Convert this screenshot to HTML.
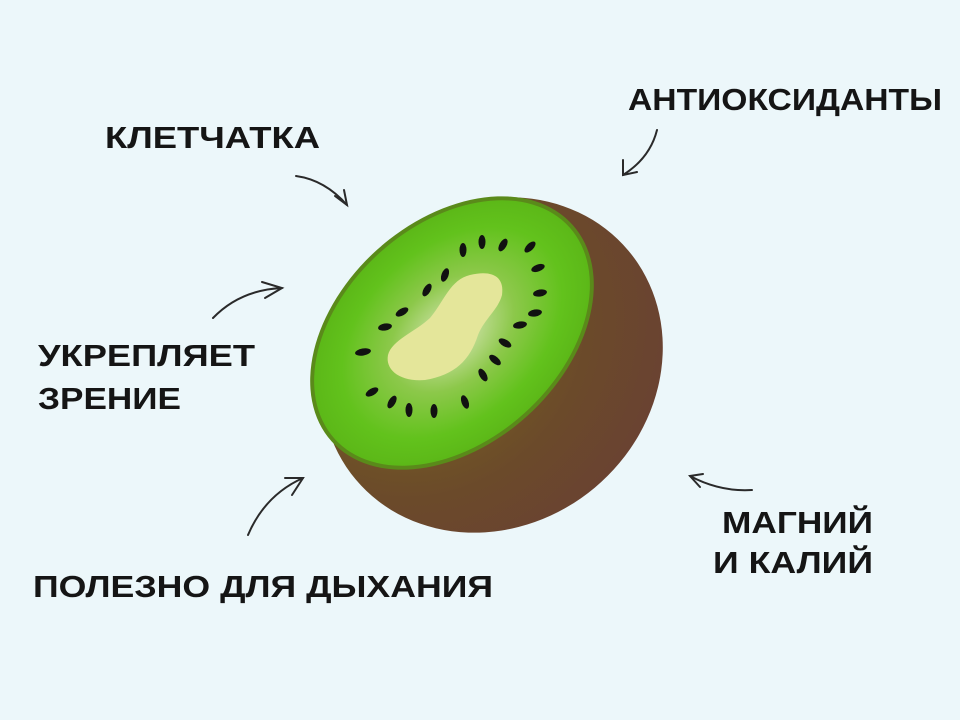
<!DOCTYPE html>
<html><head><meta charset="utf-8"><style>
html,body{margin:0;padding:0;background:#ecf7fa}
svg{display:block}
text{font-family:"Liberation Sans",sans-serif;font-weight:bold;font-size:31px;fill:#151515}
</style></head><body>
<svg width="960" height="720" viewBox="0 0 960 720" xmlns="http://www.w3.org/2000/svg">
<defs>
<radialGradient id="br" cx="0.4" cy="0.3" r="0.8">
<stop offset="0" stop-color="#7a6a1c"/><stop offset="0.6" stop-color="#6b4a2a"/><stop offset="1" stop-color="#6a4034"/>
</radialGradient>
<radialGradient id="gr" cx="0.5" cy="0.5" r="0.5">
<stop offset="0" stop-color="#dfe8c0"/><stop offset="0.45" stop-color="#8cc84a"/><stop offset="0.8" stop-color="#62c21c"/><stop offset="1" stop-color="#5cb818"/>
</radialGradient>
</defs>
<rect width="960" height="720" fill="#ecf7fa"/>
<ellipse cx="492" cy="365" rx="178" ry="160" transform="rotate(-40 492 365)" fill="url(#br)"/>
<ellipse cx="452" cy="333" rx="162" ry="112" transform="rotate(-42 452 333)" fill="#5a8a1a"/>
<ellipse cx="452" cy="333" rx="158" ry="108" transform="rotate(-42 452 333)" fill="url(#gr)"/>
<path d="M470 275 C490 270 505 275 502 295 C498 310 485 318 478 335 C470 360 455 375 425 380 C400 382 385 370 388 355 C392 340 415 332 430 318 C445 300 450 280 470 275Z" fill="#e4e69a"/>
<g fill="#111">
<ellipse cx="482" cy="242" rx="3.5" ry="7"/><ellipse cx="503" cy="245" rx="3.5" ry="7" transform="rotate(30 503 245)"/>
<ellipse cx="530" cy="247" rx="3.5" ry="7" transform="rotate(45 530 247)"/><ellipse cx="463" cy="250" rx="3.5" ry="7"/>
<ellipse cx="538" cy="268" rx="3.5" ry="7" transform="rotate(70 538 268)"/><ellipse cx="540" cy="293" rx="3.5" ry="7" transform="rotate(80 540 293)"/>
<ellipse cx="535" cy="313" rx="3.5" ry="7" transform="rotate(80 535 313)"/><ellipse cx="520" cy="325" rx="3.5" ry="7" transform="rotate(80 520 325)"/>
<ellipse cx="505" cy="343" rx="3.5" ry="7" transform="rotate(-60 505 343)"/><ellipse cx="495" cy="360" rx="3.5" ry="7" transform="rotate(-50 495 360)"/>
<ellipse cx="483" cy="375" rx="3.5" ry="7" transform="rotate(-30 483 375)"/><ellipse cx="465" cy="402" rx="3.5" ry="7" transform="rotate(-20 465 402)"/>
<ellipse cx="434" cy="411" rx="3.5" ry="7"/><ellipse cx="409" cy="410" rx="3.5" ry="7"/>
<ellipse cx="392" cy="402" rx="3.5" ry="7" transform="rotate(30 392 402)"/><ellipse cx="372" cy="392" rx="3.5" ry="7" transform="rotate(60 372 392)"/>
<ellipse cx="363" cy="352" rx="3.5" ry="8" transform="rotate(80 363 352)"/><ellipse cx="385" cy="327" rx="3.5" ry="7" transform="rotate(80 385 327)"/>
<ellipse cx="402" cy="312" rx="3.5" ry="7" transform="rotate(60 402 312)"/><ellipse cx="427" cy="290" rx="3.5" ry="7" transform="rotate(30 427 290)"/>
<ellipse cx="445" cy="275" rx="3.5" ry="7" transform="rotate(20 445 275)"/>
</g>
<g fill="none" stroke="#2a2a2a" stroke-width="2" stroke-linecap="round">
<path d="M296 176 Q325 180 347 205"/><path d="M335 196 L347 205 L344 190"/>
<path d="M213 318 Q240 290 282 288"/><path d="M262 282 L282 288 L265 298"/>
<path d="M248 535 Q265 495 303 478"/><path d="M285 478 L303 478 L292 495"/>
<path d="M657 130 Q650 158 623 175"/><path d="M623 160 L623 175 L637 172"/>
<path d="M752 490 Q720 492 690 476"/><path d="M703 474 L690 476 L700 487"/>
</g>
<text x="105" y="148" textLength="215" lengthAdjust="spacingAndGlyphs">КЛЕТЧАТКА</text>
<text x="628" y="110" textLength="314" lengthAdjust="spacingAndGlyphs">АНТИОКСИДАНТЫ</text>
<text x="38" y="366" textLength="217" lengthAdjust="spacingAndGlyphs">УКРЕПЛЯЕТ</text>
<text x="38" y="409" textLength="143" lengthAdjust="spacingAndGlyphs">ЗРЕНИЕ</text>
<text x="33" y="597" textLength="460" lengthAdjust="spacingAndGlyphs">ПОЛЕЗНО ДЛЯ ДЫХАНИЯ</text>
<text x="722" y="533" textLength="151" lengthAdjust="spacingAndGlyphs">МАГНИЙ</text>
<text x="713" y="573" textLength="160" lengthAdjust="spacingAndGlyphs">И КАЛИЙ</text>
</svg>
</body></html>
